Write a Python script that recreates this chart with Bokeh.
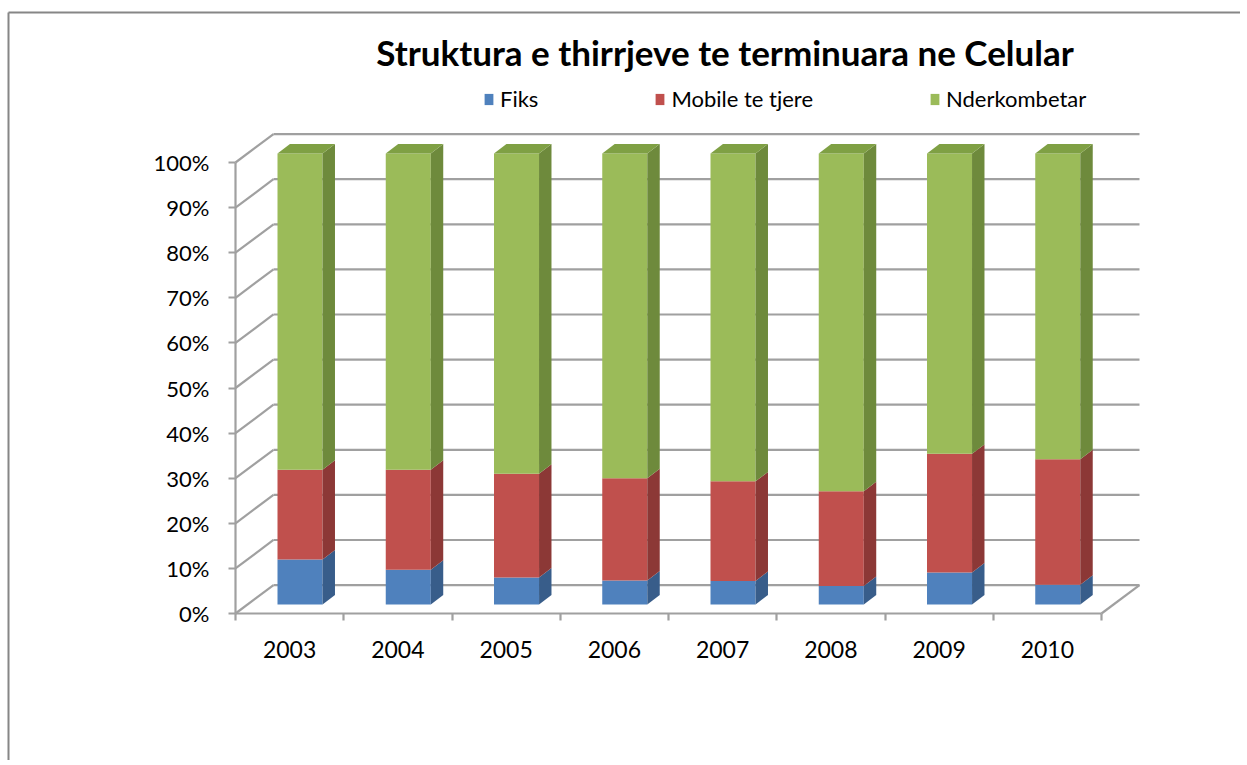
from bokeh.plotting import figure
from bokeh.models import Range1d, FixedTicker, Legend, LegendItem, Label, ColumnDataSource
from bokeh.embed import file_html
from bokeh.resources import INLINE

# ---------------- data ----------------
years = ["2003", "2004", "2005", "2006", "2007", "2008", "2009", "2010"]
fiks = [10.0, 7.7, 6.0, 5.3, 5.2, 4.1, 7.1, 4.4]
mobile = [19.9, 22.2, 23.0, 22.7, 22.1, 21.0, 26.3, 27.8]
nderkombetar = [70.1, 70.1, 71.0, 72.0, 72.7, 74.9, 66.6, 67.8]
series_names = ["Fiks", "Mobile te tjere", "Nderkombetar"]
y_ticks = [0, 10, 20, 30, 40, 50, 60, 70, 80, 90, 100]
y_tick_labels = ["0%", "10%", "20%", "30%", "40%", "50%", "60%", "70%", "80%", "90%", "100%"]
title_text = "Struktura e thirrjeve te terminuara ne Celular"

# ---------------- style ----------------
front_colors = ["#4F81BD", "#C0504D", "#9BBB59"]
side_colors = ["#385D8A", "#8C3836", "#6E8A3C"]
top_color = "#7FA044"
grid_color = "#A0A0A0"
border_color = "#868686"
FONT = "Lato"

PX_X = 108.25                   # px per category
PX_Y = 4.51                     # px per percent
AXIS_X, AXIS_Y = 235, 613       # page position of the front 0% corner
W, H = 1240, 760


def dx(px):
    return (px - AXIS_X) / PX_X


def dy(py):
    return (AXIS_Y - py) / PX_Y


# 3D geometry (data units)
DX, DY = 0.351, 6.3          # back wall offset
BX0, BY0 = 0.096, 2.0        # bar front face offset
BW = 0.416                   # bar width
SDX, SDY = 0.115, 2.1        # bar depth

p = figure(width=W, height=H, x_range=Range1d(dx(0), dx(W)), y_range=Range1d(dy(H), dy(0)),
           output_backend="svg", toolbar_location=None,
           min_border_left=0, min_border_right=0, min_border_top=0, min_border_bottom=0)
p.grid.visible = False
p.outline_line_color = None
p.background_fill_color = "white"
p.border_fill_color = "white"

# outer chart border (left and top edges are the only ones inside the view)
p.segment(x0=[dx(8), dx(8)], y0=[dy(12), dy(12)], x1=[dx(8), dx(W + 10)], y1=[dy(H + 10), dy(12)],
          line_color=border_color, line_width=2)

# ---------------- walls / grid ----------------
n = len(years)
gx0 = [DX] * len(y_ticks)
gx1 = [n + DX] * len(y_ticks)
gy = [v + DY for v in y_ticks]
p.segment(x0=gx0, y0=gy, x1=gx1, y1=gy, line_color=grid_color, line_width=2.2)
p.segment(x0=[0] * len(y_ticks), y0=y_ticks, x1=gx0, y1=gy, line_color=grid_color, line_width=2.2)
p.segment(x0=[n], y0=[0], x1=[n + DX], y1=[DY], line_color=grid_color, line_width=2.2)

# ---------------- bars ----------------
vals = [fiks, mobile, nderkombetar]
cum = [0.0] * n
front_renderers = []
for s, series in enumerate(vals):
    lefts, rights, bottoms, tops = [], [], [], []
    sx, sy = [], []
    for i in range(n):
        total = fiks[i] + mobile[i] + nderkombetar[i]
        v = series[i] / total * 100.0
        l = i + 0.5 + BX0 - BW / 2
        r = l + BW
        b = cum[i] + BY0
        t = cum[i] + v + BY0
        lefts.append(l); rights.append(r); bottoms.append(b); tops.append(t)
        sx.append([r, r + SDX, r + SDX, r])
        sy.append([b, b + SDY, t + SDY, t])
        cum[i] += v
    src = ColumnDataSource(dict(left=lefts, right=rights, bottom=bottoms, top=tops))
    fr = p.quad(left="left", right="right", bottom="bottom", top="top", source=src,
                fill_color=front_colors[s], line_color=None)
    front_renderers.append(fr)
    p.patches(xs=sx, ys=sy, fill_color=side_colors[s], line_color=None)

# top faces
tx, ty = [], []
for i in range(n):
    l = i + 0.5 + BX0 - BW / 2
    r = l + BW
    t = cum[i] + BY0
    tx.append([l, l + SDX, r + SDX, r])
    ty.append([t, t + SDY, t + SDY, t])
p.patches(xs=tx, ys=ty, fill_color=top_color, line_color=None)

# ---------------- axes ----------------
xa = p.xaxis[0]
xa.fixed_location = 0
xa.ticker = FixedTicker(ticks=[i + 0.5 for i in range(n)], minor_ticks=list(range(n + 1)))
xa.major_label_overrides = {i + 0.5: years[i] for i in range(n)}
xa.bounds = (0, n)
xa.axis_line_color = grid_color
xa.axis_line_width = 2.2
xa.major_tick_out = 0
xa.major_tick_in = 0
xa.minor_tick_out = 7
xa.minor_tick_in = 0
xa.minor_tick_line_color = grid_color
xa.minor_tick_line_width = 2.2
xa.major_label_text_font = FONT
xa.major_label_text_font_size = "23px"
xa.major_label_text_color = "black"
xa.major_label_standoff = 20

ya = p.yaxis[0]
ya.fixed_location = 0
ya.ticker = FixedTicker(ticks=y_ticks, minor_ticks=[])
ya.major_label_overrides = {v: lab for v, lab in zip(y_ticks, y_tick_labels)}
ya.bounds = (0, 100)
ya.axis_line_color = grid_color
ya.axis_line_width = 2.2
ya.major_tick_out = 7
ya.major_tick_in = 0
ya.major_tick_line_color = grid_color
ya.major_tick_line_width = 2.2
ya.minor_tick_line_color = None
ya.major_label_text_font = FONT
ya.major_label_text_font_size = "22px"
ya.major_label_text_color = "black"
ya.major_label_standoff = 19

# ---------------- title & legend ----------------
p.add_layout(Label(x=dx(724.5), y=dy(51), text=title_text,
                   text_align="center", text_baseline="alphabetic",
                   text_font=FONT, text_font_style="bold", text_font_size="35px",
                   text_color="black"))

legend = Legend(items=[LegendItem(label=series_names[k], renderers=[front_renderers[k]])
                       for k in range(3)],
                orientation="horizontal", location=(483, H - 112),
                glyph_width=11, glyph_height=14, label_standoff=6, spacing=116,
                label_height=22,
                padding=0, margin=0, border_line_color=None, background_fill_alpha=0,
                label_text_font=FONT, label_text_font_size="22px", label_text_color="black")
p.add_layout(legend)

open("out.html", "w").write(file_html(p, INLINE))
